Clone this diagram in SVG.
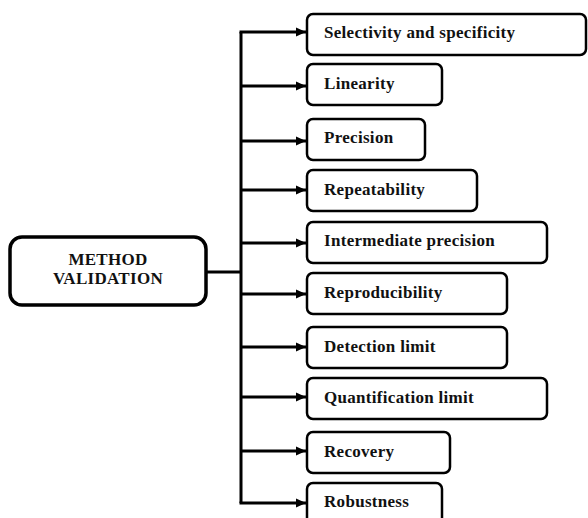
<svg xmlns="http://www.w3.org/2000/svg" width="588" height="518" viewBox="0 0 588 518">
<style>
.box{fill:#fff;stroke:#000;stroke-width:2.5}
.main{fill:#fff;stroke:#000;stroke-width:3.5}
.t{font-family:"Liberation Serif","Times New Roman",serif;font-weight:bold;font-size:17px;letter-spacing:0.3px;fill:#111}
.c{fill:none;stroke:#000;stroke-width:3}
.a{fill:none;stroke:#000;stroke-width:3}
</style>
<defs>
<marker id="ah" markerWidth="11" markerHeight="11" refX="10" refY="5.5" orient="auto" markerUnits="userSpaceOnUse">
<path d="M0,1 L10,5.5 L0,10 Z" fill="#000"/>
</marker>
</defs>
<g id="connectors">
<path class="c" d="M207,272 H241"/>
<path class="c" d="M241,503 V32"/>
<path class="a" d="M239.5,32 H306" marker-end="url(#ah)"/>
<path class="a" d="M241,86 H306" marker-end="url(#ah)"/>
<path class="a" d="M241,141 H306" marker-end="url(#ah)"/>
<path class="a" d="M241,190 H306" marker-end="url(#ah)"/>
<path class="a" d="M241,243 H306" marker-end="url(#ah)"/>
<path class="a" d="M241,294 H306" marker-end="url(#ah)"/>
<path class="a" d="M241,347 H306" marker-end="url(#ah)"/>
<path class="a" d="M241,397 H306" marker-end="url(#ah)"/>
<path class="a" d="M241,451 H306" marker-end="url(#ah)"/>
<path class="a" d="M239.5,503 H306" marker-end="url(#ah)"/>
</g>
<g id="method-validation">
<rect class="main" x="10" y="237" width="196" height="68" rx="12"/>
<text class="t" x="108" y="265" text-anchor="middle">METHOD</text>
<text class="t" x="108" y="284" text-anchor="middle">VALIDATION</text>
</g>
<g id="selectivity">
<rect class="box" x="307" y="14" width="279" height="41" rx="6"/>
<text class="t" x="324" y="38">Selectivity and specificity</text>
</g>
<g id="linearity">
<rect class="box" x="307" y="64" width="135" height="41" rx="6"/>
<text class="t" x="324" y="89">Linearity</text>
</g>
<g id="precision">
<rect class="box" x="307" y="119" width="118" height="41" rx="6"/>
<text class="t" x="324" y="143">Precision</text>
</g>
<g id="repeatability">
<rect class="box" x="307" y="170" width="170" height="41" rx="6"/>
<text class="t" x="324" y="195">Repeatability</text>
</g>
<g id="intermediate-precision">
<rect class="box" x="307" y="222" width="240" height="41" rx="6"/>
<text class="t" x="324" y="246">Intermediate precision</text>
</g>
<g id="reproducibility">
<rect class="box" x="307" y="273" width="200" height="41" rx="6"/>
<text class="t" x="324" y="298">Reproducibility</text>
</g>
<g id="detection-limit">
<rect class="box" x="307" y="327" width="200" height="41" rx="6"/>
<text class="t" x="324" y="352">Detection limit</text>
</g>
<g id="quantification-limit">
<rect class="box" x="307" y="378" width="240" height="41" rx="6"/>
<text class="t" x="324" y="403">Quantification limit</text>
</g>
<g id="recovery">
<rect class="box" x="307" y="432" width="143" height="41" rx="6"/>
<text class="t" x="324" y="457">Recovery</text>
</g>
<g id="robustness">
<rect class="box" x="307" y="483" width="135" height="41" rx="6"/>
<text class="t" x="324" y="507">Robustness</text>
</g>
</svg>
